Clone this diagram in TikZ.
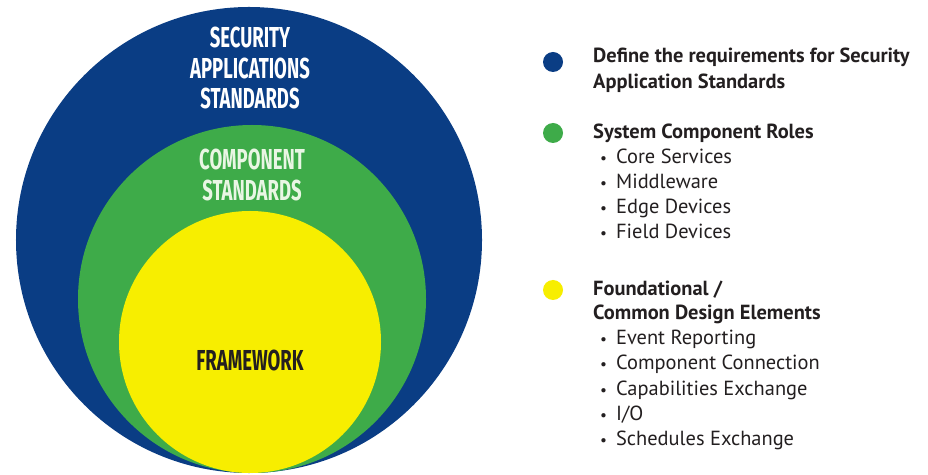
\documentclass[tikz,border=0pt]{standalone}
\usepackage{fontspec}
\setmainfont{PT Sans}
\newfontfamily\capsfont{Fira Sans}[FakeStretch=0.64]
\usetikzlibrary{positioning}

\definecolor{secblue}{HTML}{0A3D84}
\definecolor{compgreen}{HTML}{3EAB49}
\definecolor{frameyellow}{HTML}{F7EE00}
\definecolor{inktext}{HTML}{231F20}
\definecolor{palegreen}{HTML}{E9F6E4}

\tikzset{
  ring/.style={circle, inner sep=0pt, draw=none},
  caption/.style={font=\capsfont\bfseries\fontsize{29}{31}\selectfont, align=center},
  dot/.style={circle, inner sep=0pt, minimum size=20bp},
  head/.style={anchor=base west, inner sep=0pt, text=inktext,
    font=\bfseries\fontsize{20.5}{25}\selectfont},
  item/.style={anchor=base west, inner sep=0pt, text=inktext,
    font=\fontsize{20.5}{25}\selectfont},
}

\begin{document}
\begin{tikzpicture}[x=1bp, y=-1bp]
  \useasboundingbox[fill=white] (0,0) rectangle (928,475);

  % nested circles
  \node[ring, fill=secblue, minimum size=466bp] (outer) at (249,240) {};
  \node[ring, fill=compgreen, minimum size=348bp] (middle) at (252,299) {};
  \node[ring, fill=frameyellow, minimum size=262bp] (inner) at (250,342) {};

  \node[caption, text=white] (seclbl) at (250,68)
    {SECURITY\\APPLICATIONS\\STANDARDS};
  \node[caption, text=palegreen] (complbl) at (252,175)
    {COMPONENT\\STANDARDS};
  \node[caption, text=inktext] (framelbl) at (250,360) {FRAMEWORK};

  % legend
  \node[dot, fill=secblue] (bluedot) at (553,62) {};
  \node[dot, fill=compgreen] (greendot) at (553,133) {};
  \node[dot, fill=frameyellow] (yellowdot) at (553,290) {};

  \node[head] (sechead1) at (593,63) {Define the requirements for Security};
  \node[head] (sechead2) at (593,89) {Application Standards};

  \node[head] (comphead) at (593,139) {System Component Roles};
  \foreach \t [count=\i] in {Core Services, Middleware, Edge Devices, Field Devices}{
    \node[item] (comp\i) at (600,{139+25*\i}) {\scalebox{0.75}{\textbullet}\hspace{9bp}\t};
  }

  \node[head] (framehead1) at (593,296) {Foundational /};
  \node[head] (framehead2) at (593,320) {Common Design Elements};
  \foreach \t [count=\i] in {Event Reporting, Component Connection,
      Capabilities Exchange, I/O, Schedules Exchange}{
    \node[item] (frame\i) at (600,{320+25*\i}) {\scalebox{0.75}{\textbullet}\hspace{9bp}\t};
  }
\end{tikzpicture}
\end{document}
